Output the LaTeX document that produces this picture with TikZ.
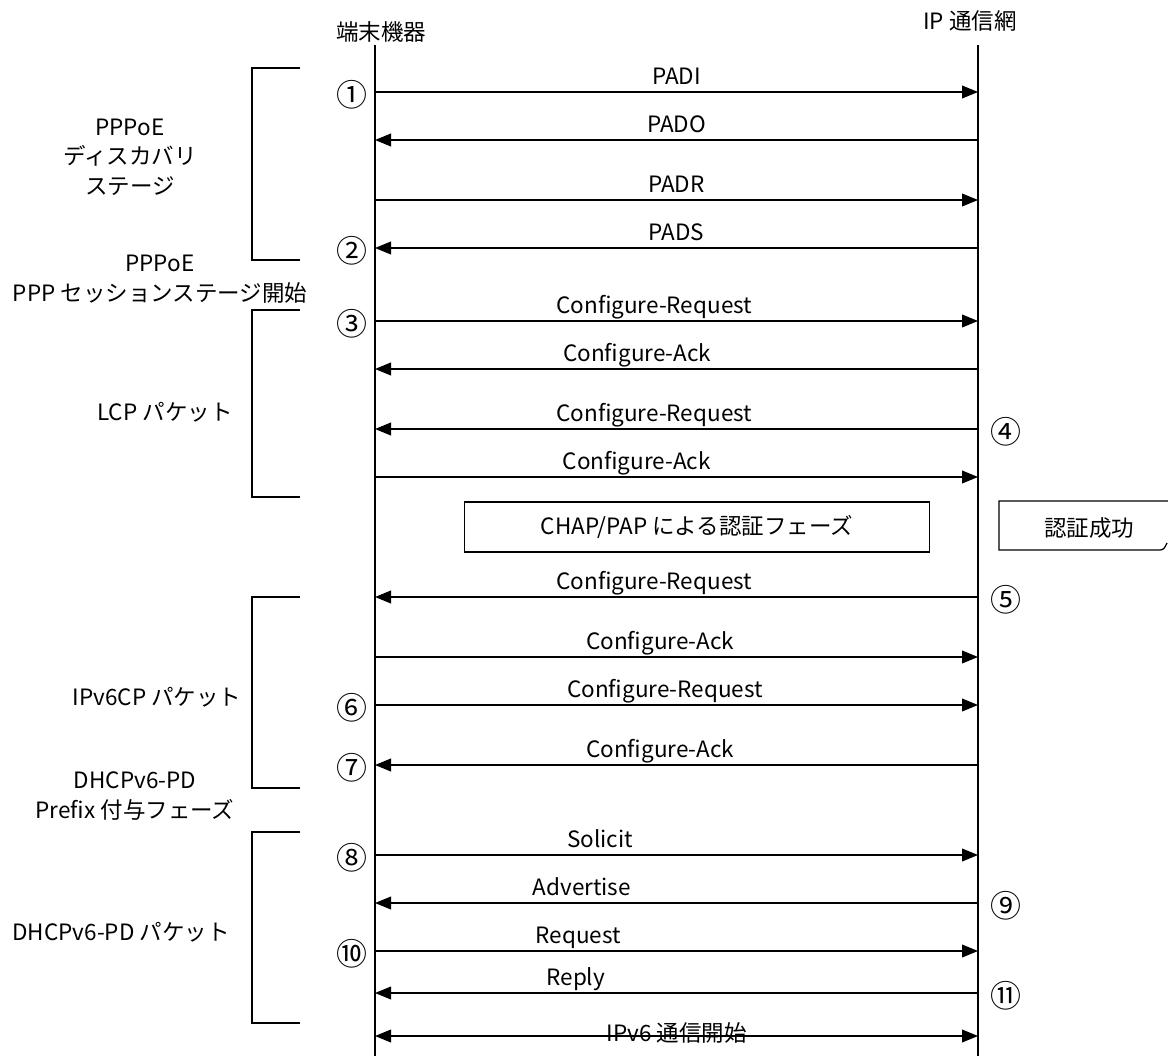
\documentclass[tikz,border=0pt]{standalone}
\usepackage{fontspec}
\setmainfont{Noto Sans CJK JP}
\usetikzlibrary{arrows.meta}

\begin{document}
\begin{tikzpicture}[x=0.025cm, y=-0.025cm,
        every node/.style={font=\fontsize{16}{21}\selectfont},
        life/.style={draw=black, line width=1pt},
        msg/.style={-{Triangle[length=4mm,width=3.2mm]}, line width=0.9pt},
        both/.style={{Triangle[length=4mm,width=3.2mm]}-{Triangle[length=4mm,width=3.2mm]}, line width=0.9pt},
        lbl/.style={above, inner sep=0pt, text depth=0pt, yshift=5pt},
        num/.style={inner sep=0pt, yshift=-2pt, font=\fontsize{22}{22}\selectfont},
        phase/.style={align=center},
        bracket/.style={line width=0.9pt},
        stagebox/.style={draw, line width=0.9pt, minimum width=11.625cm, minimum height=1.25cm}
      ]
        \useasboundingbox (0,0) rectangle (1168,1056);

        % lifelines
        \node (term) at (381,32) {端末機器};
        \node (net)  at (970,21) {IP 通信網};
        \coordinate (termTop) at (375,45);
        \coordinate (termEnd) at (375,1056);
        \coordinate (netTop)  at (978,45);
        \coordinate (netEnd)  at (978,1056);
        \draw[life] (termTop) -- (termEnd);
        \draw[life] (netTop) -- (netEnd);

        % message rows
        \foreach \i/\y in {1/92,2/140,3/200,4/248,5/321,6/369,7/429,8/477,
                           9/597,10/657,11/705,12/765,13/855,14/903,15/951,16/993,17/1036}{
          \coordinate (t\i) at (375,\y);
          \coordinate (n\i) at (978,\y);
        }

        % PPPoE discovery
        \draw[msg] (t1) -- node[lbl, pos=0.5] {PADI} (n1);
        \draw[msg] (n2) -- node[lbl, pos=0.5] {PADO} (t2);
        \draw[msg] (t3) -- node[lbl, pos=0.5] {PADR} (n3);
        \draw[msg] (n4) -- node[lbl, pos=0.5] {PADS} (t4);

        % LCP
        \draw[msg] (t5) -- node[lbl, pos=0.463] {Configure-Request} (n5);
        \draw[msg] (n6) -- node[lbl, pos=0.565] {Configure-Ack} (t6);
        \draw[msg] (n7) -- node[lbl, pos=0.537] {Configure-Request} (t7);
        \draw[msg] (t8) -- node[lbl, pos=0.434] {Configure-Ack} (n8);

        % IPv6CP
        \draw[msg] (n9) -- node[lbl, pos=0.537] {Configure-Request} (t9);
        \draw[msg] (t10) -- node[lbl, pos=0.473] {Configure-Ack} (n10);
        \draw[msg] (t11) -- node[lbl, pos=0.481] {Configure-Request} (n11);
        \draw[msg] (n12) -- node[lbl, pos=0.527] {Configure-Ack} (t12);

        % DHCPv6-PD
        \draw[msg] (t13) -- node[lbl, pos=0.373] {Solicit} (n13);
        \draw[msg] (n14) -- node[lbl, pos=0.657] {Advertise} (t14);
        \draw[msg] (t15) -- node[lbl, pos=0.337] {Request} (n15);
        \draw[msg] (n16) -- node[lbl, pos=0.667] {Reply} (t16);
        \draw[both] (t17) -- node[lbl, pos=0.5, yshift=-9pt] {IPv6 通信開始} (n17);

        % step numbers
        \node[num, left=5pt]  (s1)  at (t1)  {①};
        \node[num, left=5pt]  (s2)  at (t4)  {②};
        \node[num, left=5pt]  (s3)  at (t5)  {③};
        \node[num, right=9pt] (s4)  at (n7)  {④};
        \node[num, right=9pt] (s5)  at (n9)  {⑤};
        \node[num, left=5pt]  (s6)  at (t11) {⑥};
        \node[num, left=5pt]  (s7)  at (t12) {⑦};
        \node[num, left=5pt]  (s8)  at (t13) {⑧};
        \node[num, right=9pt] (s9)  at (n14) {⑨};
        \node[num, left=5pt]  (s10) at (t15) {⑩};
        \node[num, right=9pt] (s11) at (n16) {⑪};

        % authentication
        \node[stagebox] (auth) at (697,527) {CHAP/PAP による認証フェーズ};
        \draw[line width=0.9pt] (1168,501) -- (999,501) -- (999,550) -- (1160,550)
          .. controls (1164,550) and (1165,547) .. (1167,543);
        \node (authok) at (1089,528) {認証成功};

        % phase brackets
        \draw[bracket] (300,68) -- (252,68) -- (252,260) -- (300,260);
        \draw[bracket] (300,310) -- (252,310) -- (252,497) -- (300,497);
        \draw[bracket] (300,597) -- (252,597) -- (252,788) -- (300,788);
        \draw[bracket] (300,832) -- (252,832) -- (252,1023) -- (300,1023);

        \node[phase] (disc)  at (130,157) {PPPoE\\ディスカバリ\\ステージ};
        \node[phase] (sess)  at (160,279) {PPPoE\\PPP セッションステージ開始};
        \node[phase] (lcp)   at (165,412) {LCP パケット};
        \node[phase] (ipcp)  at (157,697) {IPv6CP パケット};
        \node[phase] (pref)  at (135,796) {DHCPv6-PD\\Prefix 付与フェーズ};
        \node[phase] (dhcp)  at (121,932) {DHCPv6-PD パケット};
      \end{tikzpicture}
\end{document}
